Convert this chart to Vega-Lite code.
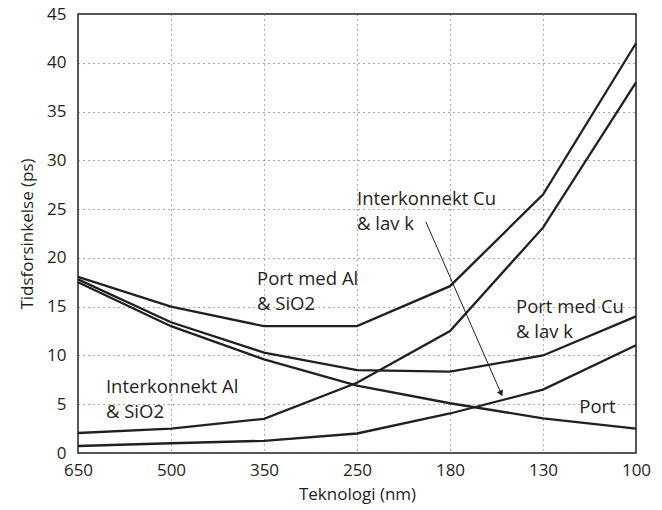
{
  "$schema": "https://vega.github.io/schema/vega-lite/v6.json",
  "width": 558,
  "height": 439,
  "autosize": {"type": "none"},
  "padding": {"left": 78, "top": 14, "right": 26, "bottom": 57},
  "background": "white",
  "config": {
    "font": "Open Sans",
    "view": {"stroke": "#231f20", "strokeWidth": 1.5},
    "axis": {
      "labelFont": "Open Sans",
      "titleFont": "Open Sans",
      "labelFontSize": 17,
      "titleFontSize": 17,
      "labelColor": "#231f20",
      "titleColor": "#231f20",
      "titleFontWeight": "normal",
      "domain": false,
      "ticks": false,
      "grid": true,
      "gridColor": "#555555",
      "gridDash": [1, 4],
      "gridWidth": 1
    }
  },
  "datasets": {
    "lines": [
      {"serie": "Port", "i": 0, "v": 17.5},
      {"serie": "Port", "i": 1, "v": 13.0},
      {"serie": "Port", "i": 2, "v": 9.6},
      {"serie": "Port", "i": 3, "v": 6.9},
      {"serie": "Port", "i": 4, "v": 5.1},
      {"serie": "Port", "i": 5, "v": 3.55},
      {"serie": "Port", "i": 6, "v": 2.5},
      {"serie": "Interkonnekt Al", "i": 0, "v": 2.05},
      {"serie": "Interkonnekt Al", "i": 1, "v": 2.5},
      {"serie": "Interkonnekt Al", "i": 2, "v": 3.5},
      {"serie": "Interkonnekt Al", "i": 3, "v": 7.2},
      {"serie": "Interkonnekt Al", "i": 4, "v": 12.5},
      {"serie": "Interkonnekt Al", "i": 5, "v": 23.1},
      {"serie": "Interkonnekt Al", "i": 6, "v": 38.0},
      {"serie": "Port med Al", "i": 0, "v": 18.05},
      {"serie": "Port med Al", "i": 1, "v": 15.0},
      {"serie": "Port med Al", "i": 2, "v": 13.0},
      {"serie": "Port med Al", "i": 3, "v": 13.0},
      {"serie": "Port med Al", "i": 4, "v": 17.1},
      {"serie": "Port med Al", "i": 5, "v": 26.5},
      {"serie": "Port med Al", "i": 6, "v": 42.0},
      {"serie": "Interkonnekt Cu", "i": 0, "v": 0.72},
      {"serie": "Interkonnekt Cu", "i": 1, "v": 1.0},
      {"serie": "Interkonnekt Cu", "i": 2, "v": 1.25},
      {"serie": "Interkonnekt Cu", "i": 3, "v": 2.0},
      {"serie": "Interkonnekt Cu", "i": 4, "v": 4.05},
      {"serie": "Interkonnekt Cu", "i": 5, "v": 6.5},
      {"serie": "Interkonnekt Cu", "i": 6, "v": 11.05},
      {"serie": "Port med Cu", "i": 0, "v": 17.8},
      {"serie": "Port med Cu", "i": 1, "v": 13.4},
      {"serie": "Port med Cu", "i": 2, "v": 10.3},
      {"serie": "Port med Cu", "i": 3, "v": 8.5},
      {"serie": "Port med Cu", "i": 4, "v": 8.35},
      {"serie": "Port med Cu", "i": 5, "v": 10.0},
      {"serie": "Port med Cu", "i": 6, "v": 14.0}
    ],
    "labels": [
      {"t": "Port med Al", "i": 1.925, "v": 17.2},
      {"t": "& SiO2", "i": 1.925, "v": 14.65},
      {"t": "Interkonnekt Al", "i": 0.3, "v": 6.15},
      {"t": "& SiO2", "i": 0.3, "v": 3.59},
      {"t": "Interkonnekt Cu", "i": 3.0, "v": 25.4},
      {"t": "& lav k", "i": 3.0, "v": 22.85},
      {"t": "Port med Cu", "i": 4.71, "v": 14.34},
      {"t": "& lav k", "i": 4.71, "v": 11.78},
      {"t": "Port", "i": 5.39, "v": 4.1}
    ],
    "arrow": [
      {"i": 3.74, "v": 23.7, "i2": 4.55, "v2": 6.1}
    ],
    "head": [
      {"i": 4.55, "v": 6.1}
    ]
  },
  "layer": [
    {
      "data": {"name": "lines"},
      "mark": {"type": "line", "color": "#231f20", "strokeWidth": 2.3},
      "encoding": {
        "x": {
          "field": "i", "type": "quantitative",
          "scale": {"domain": [0, 6], "nice": false, "zero": false},
          "axis": {
            "values": [0, 1, 2, 3, 4, 5, 6],
            "labelExpr": "['650','500','350','250','180','130','100'][datum.value]",
            "labelPadding": 9,
            "labelFlush": false,
            "title": "Teknologi (nm)",
            "titlePadding": 8
          }
        },
        "y": {
          "field": "v", "type": "quantitative",
          "scale": {"domain": [0, 45], "nice": false},
          "axis": {
            "values": [0, 5, 10, 15, 20, 25, 30, 35, 40, 45],
            "labelPadding": 12,
            "title": "Tidsforsinkelse (ps)",
            "titlePadding": 10
          }
        },
        "detail": {"field": "serie"}
      }
    },
    {
      "data": {"name": "arrow"},
      "mark": {"type": "rule", "color": "#231f20", "strokeWidth": 1},
      "encoding": {
        "x": {"field": "i", "type": "quantitative"},
        "y": {"field": "v", "type": "quantitative"},
        "x2": {"field": "i2"},
        "y2": {"field": "v2"}
      }
    },
    {
      "data": {"name": "head"},
      "mark": {"type": "point", "shape": "triangle-down", "filled": true, "color": "#231f20", "size": 45, "angle": 336, "opacity": 1},
      "encoding": {
        "x": {"field": "i", "type": "quantitative"},
        "y": {"field": "v", "type": "quantitative"}
      }
    },
    {
      "data": {"name": "labels"},
      "mark": {"type": "text", "align": "left", "baseline": "alphabetic", "fontSize": 18.5, "font": "Open Sans", "color": "#231f20"},
      "encoding": {
        "x": {"field": "i", "type": "quantitative"},
        "y": {"field": "v", "type": "quantitative"},
        "text": {"field": "t"}
      }
    }
  ]
}
